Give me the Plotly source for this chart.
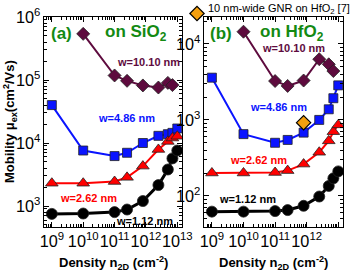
import plotly.graph_objects as go

# ---------------- data ----------------
density = [1e9, 1e10, 1e11, 2.5e11, 8e11, 2.5e12, 5e12, 7e12, 1e13]
density_w10 = [1e10, 1e11, 2.5e11, 8e11, 2.5e12, 5e12, 7e12]

# panel (a): on SiO2
sio2_w112 = [750, 760, 800, 880, 1200, 2150, 3800, 5700, 7600]
sio2_w262 = [2300, 2300, 2450, 2850, 4300, 7900, 10600, 12000, 12800]
sio2_w486 = [40000, 7600, 6200, 7000, 10000, 13000, 13800, 14500, 17000]
sio2_w1010 = [540000, 118000, 97000, 82000, 76000, 90000, 83000]

# panel (b): on HfO2
hfo2_w112 = [62, 62, 63, 65, 74, 98, 135, 170, 210]
hfo2_w262 = [200, 200, 203, 215, 262, 375, 530, 700, 860]
hfo2_w486 = [3600, 650, 500, 545, 680, 1000, 1380, 1930, 2850]
hfo2_w1010 = [14500, 3250, 2800, 3300, 6300, 5400, 4400]

ref_density = [8e11]
ref_mobility = [920]
ref_label = "10 nm-wide GNR on HfO<sub>2</sub> [7]"

W, H = 351, 275
PURPLE = "#5e0b3e"
BLUE = "#0a14ff"
RED = "#ff0000"
BLACK = "#000000"
GREEN = "#138a13"
FONT = "Arial, Liberation Sans, sans-serif"


def px(x):
    return x / W


def py(y):
    return (H - y) / H


fig = go.Figure()

series = [
    (sio2_w1010, density_w10, PURPLE, "diamond", 10, 2),
    (sio2_w486, density, BLUE, "square", 9, 2),
    (sio2_w262, density, RED, "triangle-up", 11, 2),
    (sio2_w112, density, BLACK, "circle", 11, 3),
]
for vals, xs, col, sym, size, lw in series:
    fig.add_trace(go.Scatter(
        x=xs, y=vals, mode="lines+markers", xaxis="x", yaxis="y",
        line=dict(color=col, width=lw),
        marker=dict(symbol=sym, size=size, color=col, line=dict(color="#222", width=0.8)),
        showlegend=False))

series_b = [
    (hfo2_w1010, density_w10, PURPLE, "diamond", 10, 2),
    (hfo2_w486, density, BLUE, "square", 9, 2),
    (hfo2_w262, density, RED, "triangle-up", 11, 2),
    (hfo2_w112, density, BLACK, "circle", 11, 3),
]
for vals, xs, col, sym, size, lw in series_b:
    fig.add_trace(go.Scatter(
        x=xs, y=vals, mode="lines+markers", xaxis="x2", yaxis="y2",
        line=dict(color=col, width=lw),
        marker=dict(symbol=sym, size=size, color=col, line=dict(color="#222", width=0.8)),
        showlegend=False))

fig.add_trace(go.Scatter(
    x=ref_density, y=ref_mobility, mode="markers", xaxis="x2", yaxis="y2",
    marker=dict(symbol="diamond", size=11, color="#f5a00f", line=dict(color="#000", width=1.2)),
    name=" ", showlegend=True))

axis_common = dict(
    type="log", showline=True, linecolor="black", linewidth=1, mirror="ticks",
    ticks="inside", ticklen=5, tickwidth=1, tickcolor="black",
    showgrid=False, zeroline=False, dtick=1, exponentformat="power",
    tickangle=0,
    tickfont=dict(family=FONT, size=13, color="black"),
    minor=dict(ticks="inside", ticklen=3, tickwidth=1, tickcolor="black", showgrid=False),
)

fig.update_layout(
    width=W, height=H,
    margin=dict(l=0, r=0, t=0, b=0, autoexpand=False),
    paper_bgcolor="white", plot_bgcolor="white",
    font=dict(family=FONT, color="black"),
    xaxis=dict(axis_common, domain=[px(44), px(182)], range=[8.75, 13.15], anchor="y"),
    yaxis=dict(axis_common, domain=[py(227), py(17)], range=[2.667, 6.0], anchor="x"),
    xaxis2=dict(axis_common, domain=[px(204), px(343)], range=[8.75, 13.15], anchor="y2"),
    yaxis2=dict(axis_common, domain=[py(227), py(17)], range=[1.59, 4.355], anchor="x2"),
    showlegend=True,
    legend=dict(x=px(177), y=py(-1), xanchor="left", yanchor="top",
                bgcolor="rgba(0,0,0,0)", borderwidth=0,
                font=dict(family=FONT, size=11, color="black"),
                itemwidth=30, tracegroupgap=0),
)

ann = []


def text(x, y, s, color, size, bold=True, xanchor="center", textangle=0):
    ann.append(dict(
        x=px(x), y=py(y), xref="paper", yref="paper", showarrow=False,
        text=f"<b>{s}</b>" if bold else s, xanchor=xanchor, yanchor="middle",
        font=dict(family=FONT, size=size, color=color), textangle=textangle))


# legend text for the reference diamond
text(206, 9, ref_label, BLACK, 11, bold=False, xanchor="left")

# panel labels
text(61, 33, "(a)", GREEN, 17)
text(136, 33, "on SiO<sub>2</sub>", GREEN, 17)
text(221, 33, "(b)", GREEN, 17)
text(292, 33, "on HfO<sub>2</sub>", GREEN, 17)

# width labels panel (a)
text(148, 62, "w=10.10 nm", PURPLE, 11)
text(126, 118, "w=4.86 nm", BLUE, 11)
text(88, 198, "w=2.62 nm", RED, 11)
text(144, 221, "w=1.12 nm", BLACK, 11)

# width labels panel (b)
text(293, 48, "w=10.10 nm", PURPLE, 11)
text(278, 107, "w=4.86 nm", BLUE, 11)
text(258, 160, "w=2.62 nm", RED, 11)
text(247, 199, "w=1.12 nm", BLACK, 11)

# axis titles
text(113, 263, "Density n<sub>2D</sub> (cm<sup>-2</sup>)", BLACK, 13)
text(273, 263, "Density n<sub>2D</sub> (cm<sup>-2</sup>)", BLACK, 13)
text(10, 122, "Mobility μ<sub>ex</sub>(cm<sup>2</sup>/Vs)", BLACK, 13, textangle=-90)

fig.update_layout(annotations=ann)

fig.write_html("out.html", config={"displayModeBar": False},
               post_script="document.body.style.margin='0';")
